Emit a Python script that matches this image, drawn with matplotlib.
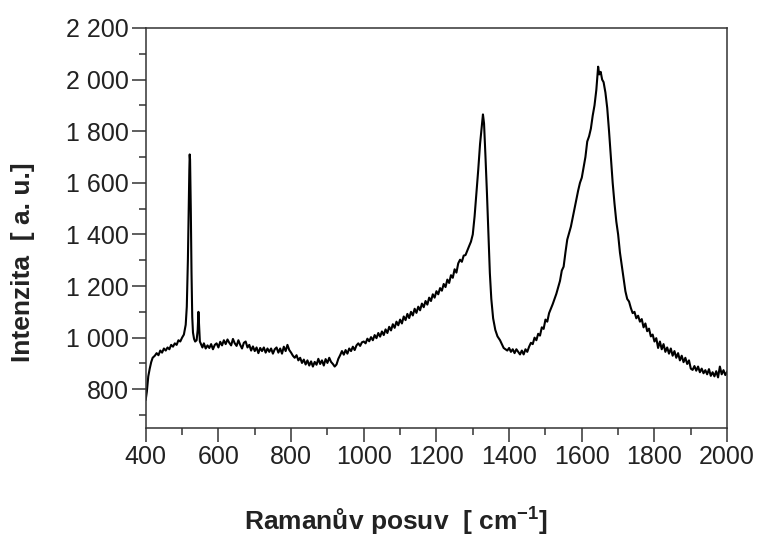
import numpy as np
import matplotlib
matplotlib.use("Agg")
import matplotlib.pyplot as plt
from matplotlib.ticker import MultipleLocator, FuncFormatter

plt.rcParams["font.family"] = ["Liberation Sans", "DejaVu Sans"]
plt.rcParams["mathtext.fontset"] = "custom"
plt.rcParams["mathtext.rm"] = "Liberation Sans"
plt.rcParams["mathtext.bf"] = "Liberation Sans:bold"

# Raman spectrum (shift in cm-1, intensity in a.u.)
shift = [
    400, 403, 407, 411, 415, 419, 425, 430, 435, 440, 445, 450, 455, 460, 465, 470, 475, 480, 485, 490,
    495, 500, 505, 510, 513, 516, 518, 520, 521, 522, 524, 526, 528, 530, 533, 536, 540, 543, 545, 547,
    549, 552, 556, 560, 565, 570, 575, 580, 585, 590, 595, 600, 605, 610, 615, 620, 625, 630, 635, 640,
    645, 650, 655, 660, 665, 670, 675, 680, 685, 690, 695, 700, 705, 710, 715, 720, 725, 730, 735, 740,
    745, 750, 755, 760, 765, 770, 775, 780, 785, 790, 795, 800, 805, 810, 815, 820, 825, 830, 835, 840,
    845, 850, 855, 860, 865, 870, 875, 880, 885, 890, 895, 900, 905, 910, 915, 920, 925, 930, 935, 940,
    945, 950, 955, 960, 965, 970, 975, 980, 985, 990, 995, 1000, 1005, 1010, 1015, 1020, 1025, 1030, 1035, 1040,
    1045, 1050, 1055, 1060, 1065, 1070, 1075, 1080, 1085, 1090, 1095, 1100, 1105, 1110, 1115, 1120, 1125, 1130, 1135, 1140,
    1145, 1150, 1155, 1160, 1165, 1170, 1175, 1180, 1185, 1190, 1195, 1200, 1205, 1210, 1215, 1220, 1225, 1230, 1235, 1240,
    1245, 1250, 1255, 1260, 1265, 1270, 1275, 1280, 1285, 1290, 1295, 1300, 1305, 1310, 1315, 1320, 1325, 1328, 1331, 1335,
    1339, 1343, 1347, 1351, 1356, 1362, 1368, 1375, 1380, 1385, 1390, 1395, 1400, 1405, 1410, 1415, 1420, 1425, 1430, 1435,
    1440, 1445, 1450, 1455, 1460, 1465, 1470, 1475, 1480, 1485, 1490, 1495, 1500, 1505, 1510, 1520, 1530, 1540, 1545, 1550,
    1555, 1560, 1570, 1580, 1590, 1595, 1600, 1605, 1610, 1615, 1620, 1625, 1630, 1635, 1640, 1645, 1648, 1652, 1656, 1660,
    1665, 1670, 1675, 1680, 1685, 1690, 1695, 1700, 1705, 1710, 1715, 1720, 1725, 1730, 1735, 1740, 1745, 1750, 1755, 1760,
    1765, 1770, 1775, 1780, 1785, 1790, 1795, 1800, 1805, 1810, 1815, 1820, 1825, 1830, 1835, 1840, 1845, 1850, 1855, 1860,
    1865, 1870, 1875, 1880, 1885, 1890, 1895, 1900, 1905, 1910, 1915, 1920, 1925, 1930, 1935, 1940, 1945, 1950, 1955, 1960,
    1965, 1970, 1975, 1980, 1985, 1990, 1995, 2000,
]
intensity = [
    760, 790, 850, 880, 905, 922, 930, 940, 932, 950, 942, 958, 950, 962, 955, 972, 965, 978, 972, 990,
    985, 1000, 1012, 1050, 1120, 1300, 1480, 1650, 1710, 1690, 1500, 1250, 1080, 1020, 995, 985, 990, 1030, 1100, 1040,
    985, 975, 962, 978, 958, 970, 960, 975, 955, 972, 978, 962, 984, 970, 990, 975, 993, 980, 970, 995,
    978, 968, 990, 972, 958, 980, 985, 962, 972, 950, 966, 948, 962, 940, 960, 948, 962, 942, 958, 945,
    958, 938, 955, 962, 942, 958, 938, 965, 948, 972, 952, 942, 930, 922, 932, 912, 922, 902, 915, 896,
    912, 892, 908, 888, 906, 895, 918, 898, 912, 892, 917, 902, 922, 906, 898, 888, 896, 918, 932, 948,
    934, 952, 938, 958, 948, 965, 952, 970, 978, 968, 982, 985, 978, 996, 986, 1002, 990, 1010, 998, 1018,
    1004, 1024, 1010, 1032, 1018, 1042, 1028, 1052, 1038, 1062, 1048, 1070, 1055, 1082, 1068, 1092, 1076, 1100, 1086, 1112,
    1096, 1120, 1106, 1132, 1118, 1142, 1128, 1155, 1142, 1168, 1155, 1180, 1168, 1192, 1182, 1208, 1196, 1225, 1212, 1242,
    1232, 1265, 1252, 1288, 1302, 1294, 1318, 1320, 1338, 1355, 1372, 1400, 1470, 1560, 1650, 1750, 1820, 1865, 1830, 1700,
    1560, 1400, 1250, 1150, 1075, 1030, 1005, 990, 975, 960, 955, 950, 960, 945, 955, 940, 955, 945, 935, 950,
    935, 955, 945, 965, 980, 975, 1000, 990, 1015, 1008, 1040, 1034, 1070, 1062, 1095, 1130, 1170, 1220, 1260, 1275,
    1330, 1380, 1430, 1500, 1570, 1600, 1620, 1660, 1700, 1760, 1780, 1810, 1860, 1900, 1960, 2050, 2020, 2030, 2000, 1990,
    1950, 1890, 1800, 1700, 1600, 1520, 1450, 1400, 1330, 1280, 1230, 1180, 1150, 1140, 1115, 1095, 1100, 1075, 1085, 1062,
    1072, 1040, 1055, 1025, 1035, 1005, 1012, 985, 998, 960, 985, 955, 975, 945, 962, 938, 958, 930, 948, 922,
    940, 912, 930, 905, 922, 898, 912, 880, 875, 890, 872, 888, 866, 880, 862, 874, 858, 878, 852, 866,
    850, 870, 846, 888, 858, 874, 855, 868,
]

yticks = [800, 1000, 1200, 1400, 1600, 1800, 2000, 2200]
xticks = [400, 600, 800, 1000, 1200, 1400, 1600, 1800, 2000]

fig = plt.figure(figsize=(7.63, 5.38), dpi=100)
ax = fig.add_axes([0.191, 0.2045, 0.762, 0.7435])

ax.plot(shift, intensity, color="black", lw=1.5)

ax.set_xlim(400, 2000)
ax.set_ylim(650, 2200)
ax.set_xticks(xticks)
ax.set_yticks(yticks)
ax.xaxis.set_minor_locator(MultipleLocator(100))
ax.yaxis.set_minor_locator(MultipleLocator(100))
ax.yaxis.set_major_formatter(FuncFormatter(lambda v, p: f"{v:,.0f}".replace(",", " ")))

ax.tick_params(which="major", direction="out", length=10, width=1.1, labelsize=18, pad=2,
               colors="#333333", labelcolor="#222222")
ax.tick_params(which="minor", direction="out", length=5, width=1.1, colors="#333333")
for s in ax.spines.values():
    s.set_linewidth(1.1)
    s.set_color("#333333")

ax.set_xlabel(r"Ramanův posuv  [ cm$^{\mathbf{-1}}$]", fontsize=19, fontweight="bold",
              color="#222222")
ax.set_ylabel("Intenzita  [ a. u.]", fontsize=19, fontweight="bold", color="#222222")
ax.xaxis.set_label_coords(0.43, -0.19)
ax.yaxis.set_label_coords(-0.19, 0.415)

fig.savefig("out.png", dpi=100)
